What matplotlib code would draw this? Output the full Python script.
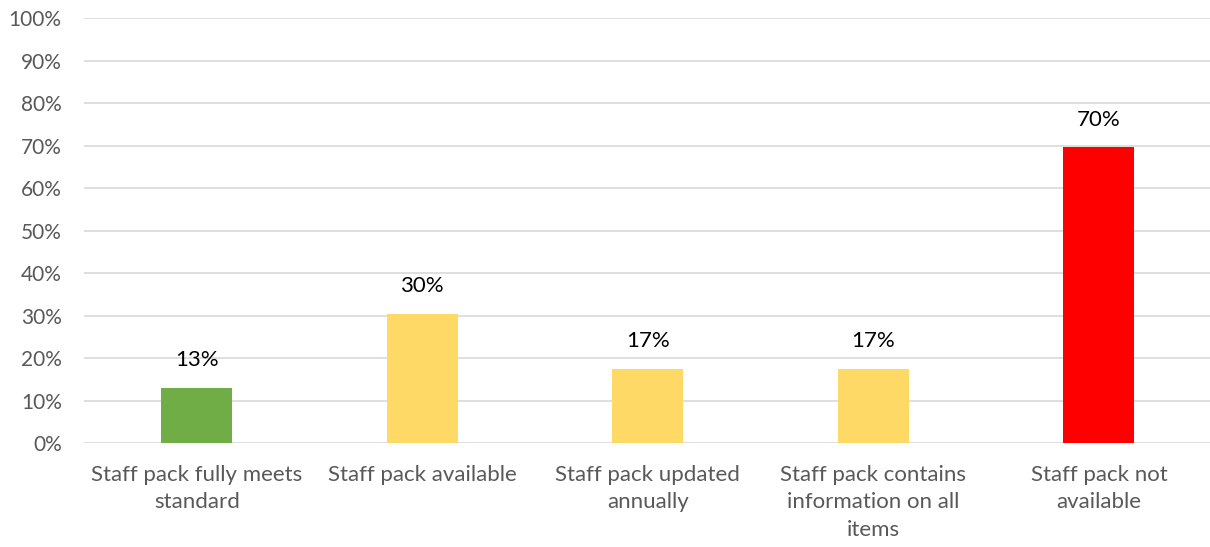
import numpy as np
import matplotlib.pyplot as plt

plt.rcParams['font.family'] = ['Lato', 'DejaVu Sans']

categories = ['Staff pack fully meets\nstandard', 'Staff pack available',
              'Staff pack updated\nannually', 'Staff pack contains\ninformation on all\nitems',
              'Staff pack not\navailable']
values = [3/23, 7/23, 4/23, 4/23, 16/23]
colors = ['#70AD47', '#FFD966', '#FFD966', '#FFD966', '#FF0000']
yticks = np.arange(0, 1.01, 0.1)

fig = plt.figure(figsize=(12.10, 5.47), dpi=100)
ax = fig.add_axes([0.0694, 0.190, 0.932, 0.777])

x = np.arange(len(categories))
bars = ax.bar(x, values, width=0.315, color=colors, zorder=3)

for b, v in zip(bars, values):
    ax.text(b.get_x() + b.get_width()/2, v + 0.042, f'{v:.0%}',
            ha='center', va='bottom', fontsize=16, color='black')

ax.set_ylim(0, 1)
ax.set_xlim(-0.5, len(categories) - 0.5)
ax.set_yticks(yticks)
ax.set_yticklabels([f'{t:.0%}' for t in yticks])
ax.set_xticks(x)
ax.set_xticklabels(categories, linespacing=1.45)
ax.tick_params(axis='both', length=0, labelsize=16, colors='#595959')
ax.tick_params(axis='y', labelsize=15, pad=16)
ax.tick_params(axis='x', pad=16)
ax.grid(axis='y', color='#D9D9D9', linewidth=1.2, zorder=0)
for s in ax.spines.values():
    s.set_visible(False)

fig.savefig('out.png', dpi=100)
